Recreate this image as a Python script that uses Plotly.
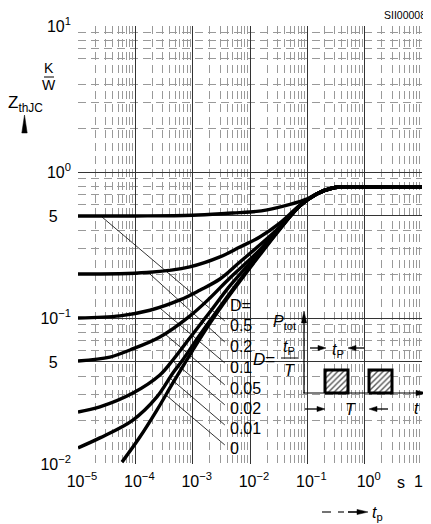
import plotly.graph_objects as go

# ---------------- data ----------------
duty_labels = ["0.5", "0.2", "0.1", "0.05", "0.02", "0.01", "0"]

t_d050 = [1e-5, 1e-4, 1e-3, 5e-3, 1e-2, 2e-2, 5e-2, 0.1, 0.146, 0.277, 0.55, 1.0, 10.0]
z_d050 = [0.50, 0.50, 0.505, 0.524, 0.532, 0.55, 0.60, 0.655, 0.71, 0.777, 0.79, 0.79, 0.79]

t_d020 = [1e-5, 1.59e-4, 8.9e-4, 2.99e-3, 6.65e-3, 1.48e-2, 3.31e-2, 7.38e-2, 0.146, 0.277, 0.55, 10.0]
z_d020 = [0.20, 0.205, 0.224, 0.262, 0.306, 0.359, 0.447, 0.59, 0.707, 0.777, 0.79, 0.79]

t_d010 = [1e-5, 5.4e-5, 1.8e-4, 6.0e-4, 1.33e-3, 2.99e-3, 6.65e-3, 1.48e-2, 3.31e-2, 7.38e-2, 0.146, 0.277, 0.55, 10.0]
z_d010 = [0.10, 0.1035, 0.113, 0.133, 0.155, 0.185, 0.242, 0.316, 0.42, 0.587, 0.707, 0.777, 0.79, 0.79]

t_d005 = [1e-5, 3.6e-5, 8.05e-5, 2.68e-4, 8.9e-4, 2.0e-3, 4.45e-3, 1.48e-2, 3.31e-2, 7.38e-2, 0.146, 0.277, 0.55, 10.0]
z_d005 = [0.0508, 0.054, 0.0604, 0.0741, 0.103, 0.137, 0.188, 0.292, 0.413, 0.586, 0.707, 0.777, 0.79, 0.79]

t_d002 = [1e-5, 2.41e-5, 9.08e-5, 2.68e-4, 4.52e-4, 8.9e-4, 2.0e-3, 4.45e-3, 1.48e-2, 3.31e-2, 7.38e-2, 0.146, 0.277, 0.55, 10.0]
z_d002 = [0.0227, 0.0246, 0.0306, 0.0407, 0.0516, 0.073, 0.110, 0.166, 0.283, 0.41, 0.585, 0.707, 0.777, 0.79, 0.79]

t_d001 = [1e-5, 2.41e-5, 9.08e-5, 2.38e-4, 4.52e-4, 6.7e-4, 1.33e-3, 4.45e-3, 1.48e-2, 3.31e-2, 7.38e-2, 0.146, 0.277, 0.55, 10.0]
z_d001 = [0.0129, 0.0151, 0.020, 0.0288, 0.042, 0.0516, 0.0765, 0.148, 0.274, 0.408, 0.585, 0.707, 0.777, 0.79, 0.79]

t_d000 = [5.85e-5, 1.2e-4, 2.38e-4, 4.52e-4, 7.9e-4, 1.63e-3, 4.45e-3, 1.48e-2, 3.31e-2, 7.38e-2, 0.146, 0.277, 0.55, 10.0]
z_d000 = [0.0103, 0.0153, 0.0234, 0.0359, 0.0516, 0.0815, 0.144, 0.27, 0.405, 0.585, 0.707, 0.777, 0.79, 0.79]

curves_t = [t_d050, t_d020, t_d010, t_d005, t_d002, t_d001, t_d000]
curves_z = [z_d050, z_d020, z_d010, z_d005, z_d002, z_d001, z_d000]

# leader lines: start point on the curve -> end at the label
lead_t0 = [2.62e-5, 1.80e-4, 2.68e-4, 3.28e-4, 4.52e-4, 4.01e-4, 3.41e-4]
lead_z0 = [0.492, 0.200, 0.117, 0.0777, 0.0508, 0.0388, 0.0297]
lead_t1 = [3.64e-3] * 7
lead_z1 = [0.0954, 0.0685, 0.0492, 0.0348, 0.0254, 0.0185, 0.0135]

# label positions (log10 units, as annotations on log axes need)
label_logt = -2.387
label_logz = [-1.048, -1.192, -1.336, -1.486, -1.623, -1.760, -1.897]
label_D_logz = -0.911

x_tickvals = [1e-5, 1e-4, 1e-3, 1e-2, 1e-1, 1e0, 1e1]
x_ticktext = ["10<sup>−5</sup>", "10<sup>−4</sup>", "10<sup>−3</sup>", "10<sup>−2</sup>",
              "10<sup>−1</sup>", "10<sup>0</sup>", "10<sup>1</sup>"]
pad = "\u00a0" * 3
y_tickvals = [1e-2, 5e-2, 1e-1, 5e-1, 1e0, 1e1]
y_ticktext = ["10<sup>−2</sup>", "5" + pad, "10<sup>−1</sup>", "5" + pad, "10<sup>0</sup>", "10<sup>1</sup>"]

x_minor = [m * 10.0 ** k for k in range(-5, 1) for m in range(2, 10)]
y_minor = [m * 10.0 ** k for k in range(-2, 1) for m in range(2, 10) if m != 5]

# ---------------- layout geometry ----------------
# the page body has an 8 px margin, so the figure is 8 px smaller and the
# helper functions below work in window pixels
OFF = 8
W, H = 431 - OFF, 524 - OFF
ML, MR, MT, MB = 70, 9, 18, 60
PW = W - ML - MR
PH = H - MT - MB
X0 = OFF + ML
Y1 = OFF + H - MB
FONT = "Liberation Sans, Arial, Helvetica, sans-serif"


def px(x):
    return (x - X0) / PW


def py(y):
    return (Y1 - y) / PH


fig = go.Figure()

for i in range(len(lead_t0)):
    fig.add_trace(go.Scatter(x=[lead_t0[i], lead_t1[i]], y=[lead_z0[i], lead_z1[i]],
                             mode="lines", line=dict(color="black", width=0.8),
                             hoverinfo="skip", showlegend=False))

for tt, zz in zip(curves_t, curves_z):
    fig.add_trace(go.Scatter(x=tt, y=zz, mode="lines",
                             line=dict(color="black", width=3.4, shape="spline", smoothing=1.0),
                             hoverinfo="skip", showlegend=False))

# hatched pulses on an overlay axis with paper-like range
for (xa, xb) in [(325, 348), (369, 392)]:
    fig.add_trace(go.Scatter(
        x=[px(xa), px(xb), px(xb), px(xa), px(xa)],
        y=[py(393), py(393), py(370), py(370), py(393)],
        xaxis="x2", yaxis="y2", mode="lines", fill="toself",
        fillcolor="white",
        fillpattern=dict(shape="/", fgcolor="#555", bgcolor="white", size=4, solidity=0.35),
        line=dict(color="black", width=3), hoverinfo="skip", showlegend=False))

shapes = []


def line(x0, y0, x1, y1, w=1.2):
    shapes.append(dict(type="line", xref="paper", yref="paper",
                       x0=px(x0), y0=py(y0), x1=px(x1), y1=py(y1),
                       line=dict(color="black", width=w)))


def tri(pts):
    p = "M " + " L ".join(f"{px(a):.5f},{py(b):.5f}" for a, b in pts) + " Z"
    shapes.append(dict(type="path", xref="paper", yref="paper", path=p,
                       fillcolor="black", line=dict(color="black", width=0.5)))


def arrow_h(x_tail, x_tip, y, hl=8, hw=2.6):
    d = 1 if x_tip > x_tail else -1
    line(x_tail, y, x_tip - d * hl, y, 1.3)
    tri([(x_tip, y), (x_tip - d * hl, y - hw), (x_tip - d * hl, y + hw)])


# baseline with arrow (t)
line(303, 393, 418, 393, 1.2)
tri([(428, 393), (416, 390.4), (416, 395.6)])
# P_tot arrow
line(304, 393, 304, 322, 1.2)
tri([(304, 311), (301.4, 323), (306.6, 323)])
# t_p dimension arrows
arrow_h(310, 326, 348)
arrow_h(364, 348, 348)
# T dimension arrows
arrow_h(305, 325, 409)
arrow_h(388, 369, 409)
# fraction line of D = t_p / T
line(281, 358, 298, 358, 1.0)
# K/W bar
line(44, 77, 54, 77, 1.0)
# Z arrow (small filled triangle)
tri([(24.5, 115), (21.8, 133), (27.2, 133)])
# x-axis arrow label
line(322, 512, 331, 512, 1.1)
line(338, 512, 344, 512, 1.1)
line(348, 512, 358, 512, 1.6)
tri([(368, 512), (357, 509.4), (357, 514.6)])

ann = []


def text(s, x, y, size=15, xanchor="center", yanchor="middle"):
    ann.append(dict(text=s, x=px(x), y=py(y),
                    xref="paper", yref="paper", showarrow=False,
                    xanchor=xanchor, yanchor=yanchor,
                    font=dict(family=FONT, size=size, color="black")))


for lab, lz in zip(duty_labels, label_logz):
    ann.append(dict(text=lab, x=label_logt, y=lz, xref="x", yref="y", showarrow=False,
                    xanchor="left", yanchor="middle",
                    font=dict(family=FONT, size=16, color="black")))
ann.append(dict(text="D=", x=label_logt, y=label_D_logz, xref="x", yref="y", showarrow=False,
                xanchor="left", yanchor="middle", font=dict(family=FONT, size=16, color="black")))

text("SII00008", 428, 15, size=10.5, xanchor="right")
text("K", 49, 68, size=14)
text("W", 49, 85, size=14)
text("Z<sub>thJC</sub>", 6, 104, size=17, xanchor="left")
text("s", 401, 482, size=16)
text("<i>t</i><sub>p</sub>", 370, 513, size=16, xanchor="left")
text("<i>P</i><sub>tot</sub>", 299, 322, size=16, xanchor="right")
text("<i>D</i>=", 277, 359, size=17, xanchor="right")
text("<i>t</i><sub>P</sub>", 289, 347, size=16)
text("<i>T</i>", 289, 370, size=16)
text("<i>t</i><sub>P</sub>", 338, 350, size=16)
text("<i>T</i>", 350, 409, size=16)
text("<i>t</i>", 416, 408, size=16)

fig.update_layout(
    width=W, height=H,
    margin=dict(l=ML, r=MR, t=MT, b=MB, pad=0),
    template="none",
    paper_bgcolor="white", plot_bgcolor="white",
    showlegend=False,
    shapes=shapes, annotations=ann,
    font=dict(family=FONT, size=16, color="black"),
    xaxis=dict(type="log", range=[-5, 1], tickmode="array", tickvals=x_tickvals, ticktext=x_ticktext,
               showgrid=True, gridcolor="#333", gridwidth=1, showline=False, zeroline=False,
               ticks="", ticklabelstandoff=6, ticklabelshift=4, automargin=False,
               ticklabeloverflow="allow",
               tickfont=dict(family=FONT, size=16, color="black"),
               minor=dict(tickmode="array", tickvals=x_minor, showgrid=True, gridcolor="#999",
                          gridwidth=0.8, griddash="8px,5px", ticks="")),
    yaxis=dict(type="log", range=[-2, 1], tickmode="array", tickvals=y_tickvals, ticktext=y_ticktext,
               showgrid=True, gridcolor="#333", gridwidth=1, showline=False, zeroline=False,
               ticks="", ticklabelstandoff=6, automargin=False,
               tickfont=dict(family=FONT, size=16, color="black"),
               minor=dict(tickmode="array", tickvals=y_minor, showgrid=True, gridcolor="#999",
                          gridwidth=0.8, griddash="8px,5px", ticks="")),
    xaxis2=dict(overlaying="x", range=[0, 1], visible=False, showgrid=False),
    yaxis2=dict(overlaying="y", range=[0, 1], visible=False, showgrid=False),
)

fig.write_html("out.html")
